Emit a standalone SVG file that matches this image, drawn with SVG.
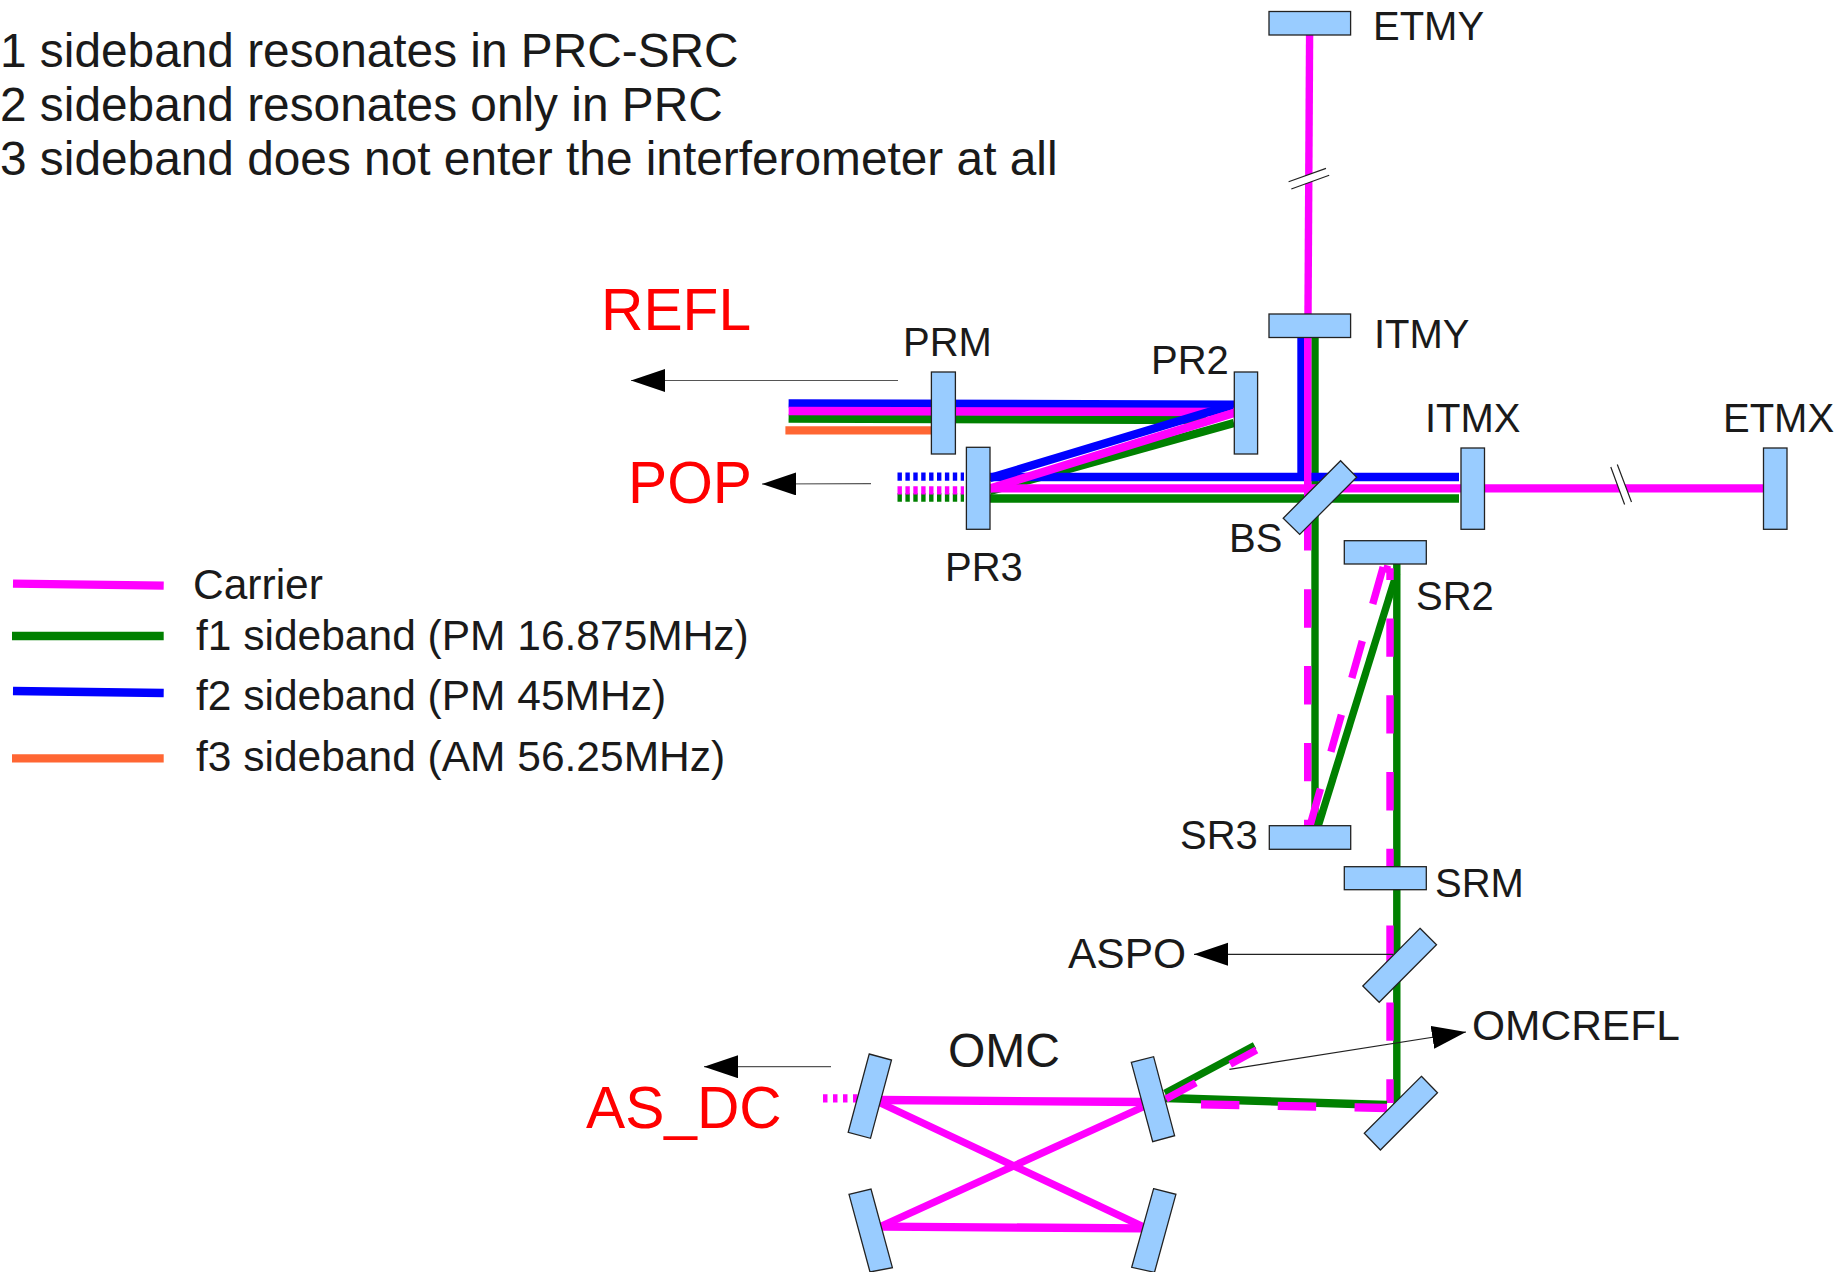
<svg xmlns="http://www.w3.org/2000/svg" width="1848" height="1272" viewBox="0 0 1848 1272">
<style>
text{font-family:"Liberation Sans",Arial,sans-serif;fill:#1a1a1a;font-size:40px}
.red{fill:#f00;font-size:58.7px}
.top{font-size:47.8px}
.leg,.lg{font-size:42.5px}
.xl{font-size:48px}
.mir{fill:#99ccff;stroke:#222;stroke-width:1.3}
.b{fill:none;stroke-width:8.3}
.v{stroke-width:7.4}
.m{stroke:#f0f}.g{stroke:#008000}.u{stroke:#00f}.o{stroke:#f63}
.dash{stroke-dasharray:38.4 38.4}
.dot{stroke-dasharray:4.4 3.5}
.thin{stroke:#222;stroke-width:1.2;fill:none}
.gray{stroke:#555;stroke-width:1.2;fill:none}
</style>
<defs>
<marker id="ah" markerUnits="userSpaceOnUse" markerWidth="36" markerHeight="24" refX="34" refY="11.5" orient="auto"><path d="M0 0L34 11.5L0 23Z" fill="#000"/></marker>
</defs>
<g id="connectors">
<!-- arm beams -->
<line class="b v m" x1="1309.6" y1="35" x2="1308" y2="314"/>
<line class="b v u" x1="1301" y1="337" x2="1301" y2="480.5"/>
<line class="b v g" x1="1315" y1="337" x2="1315" y2="826"/>
<line class="b g" x1="990" y1="491" x2="1234" y2="423"/>
<line class="b u" x1="990" y1="477" x2="1459" y2="477"/>
<line class="b g" x1="990" y1="498.5" x2="1459" y2="498.5"/>
<line class="b m" x1="990" y1="488.3" x2="1764" y2="488.3"/>
<line class="b v m" x1="1307.7" y1="337" x2="1307.7" y2="550.5"/>
<line class="b v m dash" x1="1307.7" y1="589.3" x2="1307.7" y2="826"/>
<!-- PRC -->
<line class="b u" x1="788.6" y1="403.3" x2="1234" y2="404.7"/>
<line class="b g" x1="788.6" y1="418.7" x2="1206" y2="420"/>
<line class="b m" x1="788.6" y1="411" x2="1234" y2="412"/>
<line class="b o" x1="785.4" y1="430.3" x2="931" y2="430.3"/>
<line class="b u" x1="990" y1="478" x2="1232" y2="405"/>
<line class="b m" x1="990" y1="488.5" x2="1234" y2="413"/>
<line class="b u dot" x1="897.5" y1="476.7" x2="964" y2="476.7"/>
<line class="b g dot" x1="897.5" y1="497.5" x2="964" y2="497.5"/>
<line class="b m dot" x1="897.5" y1="490.3" x2="964" y2="490.3"/>
<!-- SRC -->
<line class="b v m dash" x1="1310" y1="825.7" x2="1383.3" y2="566.7"/>
<line class="b v g" x1="1318.3" y1="825.7" x2="1396.7" y2="573"/>
<line class="b v m" x1="1383.3" y1="568" x2="1390" y2="570"/>
<line class="b v g" x1="1396.8" y1="564" x2="1396.8" y2="1104"/>
<line class="b v m" stroke-dasharray="38.4 38.4" stroke-dashoffset="26.7" x1="1390" y1="568.3" x2="1390" y2="1103"/>
<!-- towards OMC -->
<line class="b g" x1="1165.4" y1="1098" x2="1387" y2="1105"/>
<line class="b m dash" x1="1201" y1="1104.3" x2="1387" y2="1108"/>
<line class="b v g" x1="1165" y1="1093.3" x2="1254.6" y2="1045.5"/>
<line class="b v m" stroke-dasharray="34 39" x1="1166" y1="1099" x2="1256.5" y2="1050"/>
<!-- OMC -->
<line class="b m" x1="880.4" y1="1100" x2="1142.9" y2="1102"/>
<line class="b v m" x1="880.4" y1="1103" x2="1142.9" y2="1226.7"/>
<line class="b v m" x1="1142.9" y1="1107" x2="880.4" y2="1226.7"/>
<line class="b m" x1="882.6" y1="1226.7" x2="1142.9" y2="1228.3"/>
<line class="b m" stroke-dasharray="4.5 5.5" x1="823" y1="1098.3" x2="858" y2="1098.3"/>
<!-- signal arrows -->
<line class="gray" x1="898" y1="380.5" x2="631" y2="380.5" marker-end="url(#ah)"/>
<line class="gray" x1="871" y1="483.7" x2="762" y2="484" marker-end="url(#ah)"/>
<line class="gray" x1="831" y1="1066.7" x2="704" y2="1066.7" marker-end="url(#ah)"/>
<line class="thin" x1="1393.5" y1="954.3" x2="1194" y2="954.3" marker-end="url(#ah)"/>
<line class="thin" x1="1229.4" y1="1069.3" x2="1466" y2="1032" marker-end="url(#ah)"/>
<!-- length breaks -->
<path d="M1288.6 181.8L1326 168.4L1329.2 175.3L1291.3 189Z" fill="#fff"/>
<path d="M1288.6 181.8L1326 168.4M1291.3 189L1329.2 175.3" class="thin"/>
<path d="M1610.8 467L1617.3 464.5L1631.5 502L1624.6 504.5Z" fill="#fff"/>
<path d="M1610.8 467L1624.6 504.5M1617.3 464.5L1631.5 502" class="thin"/>
</g>
<g id="ETMY"><rect class="mir" x="1269" y="11.5" width="81.6" height="23.5"/><text x="1373" y="40">ETMY</text></g>
<g id="ITMY"><rect class="mir" x="1269" y="314" width="81.6" height="23.5"/><text x="1374" y="347.5">ITMY</text></g>
<g id="ITMX"><rect class="mir" x="1461" y="448" width="23.5" height="81.3"/><text x="1425" y="432">ITMX</text></g>
<g id="ETMX"><rect class="mir" x="1763.5" y="448" width="23.5" height="81.3"/><text x="1723" y="432">ETMX</text></g>
<g id="PRM"><rect class="mir" x="931.4" y="372" width="24" height="82"/><text x="903" y="356">PRM</text></g>
<g id="PR2"><rect class="mir" x="1234.3" y="372" width="23.3" height="82"/><text x="1151" y="373.6">PR2</text></g>
<g id="PR3"><rect class="mir" x="966.4" y="447.3" width="23.6" height="82"/><text x="945" y="581">PR3</text></g>
<g id="BS"><polygon class="mir" points="1340.6,460.7 1356.7,477.3 1299.7,534.4 1283.2,518.2"/><text x="1229" y="552">BS</text></g>
<g id="SR2"><rect class="mir" x="1344.3" y="540.7" width="82" height="23.3"/><text x="1416" y="610">SR2</text></g>
<g id="SR3"><rect class="mir" x="1269.3" y="825.7" width="81.4" height="23.6"/><text x="1180" y="849">SR3</text></g>
<g id="SRM"><rect class="mir" x="1344.3" y="866.7" width="82" height="23"/><text x="1435" y="897">SRM</text></g>
<g id="ASPO"><polygon class="mir" points="1420,928.3 1436.5,944.7 1379.2,1002.3 1362.8,986"/><text class="lg" x="1068" y="968">ASPO</text></g>
<g id="OMCREFL"><polygon class="mir" points="1421.4,1076.3 1437.5,1092.7 1380.4,1150 1364.3,1133.3"/><text class="lg" x="1472" y="1040">OMCREFL</text></g>
<g id="OMC"><text class="xl" x="948" y="1067">OMC</text>
<polygon class="mir" points="869.2,1054 891.5,1060 870.5,1138.3 848.2,1132.3"/>
<polygon class="mir" points="1131.3,1062.3 1153.6,1056.7 1174.6,1135.7 1152.7,1141.7"/>
<polygon class="mir" points="849,1194.3 871,1189 892.4,1267.7 870,1272"/>
<polygon class="mir" points="1153.6,1188.7 1175.9,1194.3 1154.5,1272.3 1131.7,1267.3"/></g>
<g id="REFL"><text class="red" x="601" y="330">REFL</text></g>
<g id="POP"><text class="red" x="628" y="503">POP</text></g>
<g id="AS_DC"><text class="red" x="586" y="1127.5">AS_DC</text></g>
<g id="notes">
<text class="top" x="0" y="67">1 sideband resonates in PRC-SRC</text>
<text class="top" x="0" y="121.4">2 sideband resonates only in PRC</text>
<text class="top" x="0" y="174.8">3 sideband does not enter the interferometer at all</text>
</g>
<g id="legend">
<line class="b m" x1="13" y1="583.7" x2="163.7" y2="585.7"/>
<line class="b g" x1="12" y1="636" x2="163.7" y2="636"/>
<line class="b u" x1="13" y1="691" x2="163.7" y2="693"/>
<line class="b o" x1="12" y1="758.3" x2="163.7" y2="758.3"/>
<text class="leg" x="193" y="599">Carrier</text>
<text class="leg" x="196" y="650">f1 sideband (PM 16.875MHz)</text>
<text class="leg" x="196" y="710">f2 sideband (PM 45MHz)</text>
<text class="leg" x="196" y="770.7">f3 sideband (AM 56.25MHz)</text>
</g>
</svg>
